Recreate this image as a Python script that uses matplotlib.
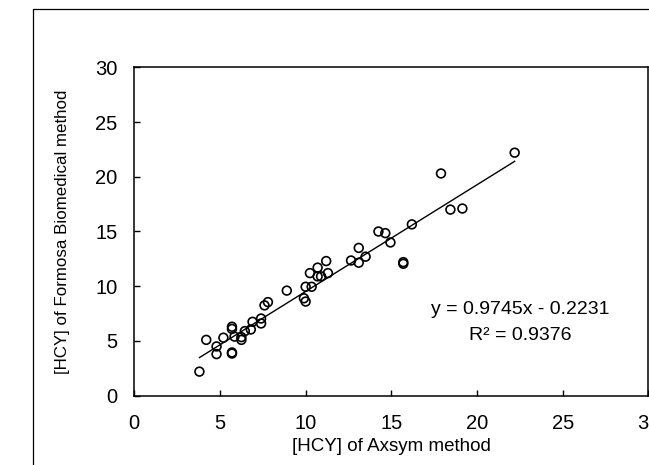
import matplotlib
matplotlib.use("Agg")
import matplotlib.pyplot as plt
from matplotlib.lines import Line2D
import numpy as np

plt.rcParams["font.family"] = ["Liberation Sans", "DejaVu Sans"]

axsym = [3.8, 4.2, 4.8, 4.8, 5.2, 5.7, 5.7, 5.7, 5.7, 5.85,
         6.25, 6.25, 6.45, 6.8, 6.9, 7.4, 7.4, 7.6, 7.8, 8.9,
         9.9, 10.0, 10.0, 10.35, 10.25, 10.7, 10.7, 10.9, 11.2, 11.3,
         12.65, 13.1, 13.1, 13.5, 14.25, 14.65, 14.95, 15.7, 15.7, 16.2,
         17.9, 18.45, 19.15, 22.2]
formosa = [2.2, 5.1, 4.5, 3.8, 5.3, 6.3, 6.1, 3.95, 3.85, 5.4,
           5.35, 5.1, 5.9, 6.05, 6.75, 6.6, 7.05, 8.25, 8.55, 9.6,
           8.9, 8.6, 9.95, 9.95, 11.2, 11.7, 10.9, 10.9, 12.3, 11.2,
           12.35, 13.5, 12.15, 12.7, 15.0, 14.85, 14.0, 12.2, 12.05, 15.65,
           20.3, 17.0, 17.1, 22.2]

slope, intercept = 0.9745, -0.2231
r2 = 0.9376

fig = plt.figure(figsize=(6.49, 4.65), dpi=100)
ax = fig.add_axes([134.3 / 649, 1 - 395.7 / 465, (648.3 - 134.3) / 649, (395.7 - 67.3) / 465])

# outer chart-area frame (cropped on right and bottom)
fx, fy = 33 / 649, 1 - 9 / 465
fig.add_artist(Line2D([fx, fx, 1.0], [0.0, fy, fy], transform=fig.transFigure,
                      color="black", lw=0.9))

ax.scatter(axsym, formosa, s=40, facecolors="none", edgecolors="black", linewidths=1.2, zorder=3)

xs = np.array([min(axsym), max(axsym)])
ax.plot(xs, slope * xs + intercept, color="black", lw=1.0)

ax.text(22.5, 7.9, f"y = {slope}x - {abs(intercept)}", ha="center", va="center", fontsize=14)
ax.text(22.5, 5.5, f"R² = {r2}", ha="center", va="center", fontsize=14)

ax.set_xlim(0, 30)
ax.set_ylim(0, 30)
ax.set_xticks(np.arange(0, 31, 5))
ax.set_yticks(np.arange(0, 31, 5))
ax.tick_params(direction="in", length=4, width=1, labelsize=14.5, pad=12)
ax.tick_params(axis="x", pad=13)
for sp in ax.spines.values():
    sp.set_linewidth(1.1)
ax.set_xlabel("[HCY] of Axsym method", fontsize=13.5, labelpad=4)
ax.set_ylabel("[HCY] of Formosa Biomedical method", fontsize=12.2, labelpad=18)

fig.savefig("out.png", dpi=100)
